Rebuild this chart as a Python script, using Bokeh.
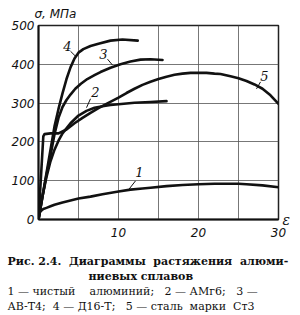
from bokeh.plotting import figure
from bokeh.models import Label, FixedTicker, Range1d, Title, LinearAxis
from bokeh.embed import file_html
from bokeh.resources import INLINE

# ---- data (strain %, stress MPa) ----
eps1 = [0, 0.1, 0.3, 0.6, 1, 1.5, 2, 3, 4, 5, 6.5, 8, 10, 11.5, 13, 14, 16, 18, 20, 22, 24, 25, 26, 28, 30]
sig1 = [0, 15, 22, 27, 30, 34, 38, 44, 49, 54, 59, 65, 72, 77, 80, 82, 86, 89, 91, 92, 92, 92, 91, 88, 83]

eps2 = [0, 0.5, 1, 1.5, 2, 2.5, 3, 4, 5, 6, 7, 8, 9, 10, 12, 14, 16]
sig2 = [0, 60, 110, 150, 180, 203, 222, 248, 268, 280, 288, 292, 295, 297, 301, 303, 305]

eps3 = [0, 0.5, 1, 1.5, 2, 2.5, 3, 3.5, 4, 4.6, 5.3, 6.1, 7, 7.75, 9, 10.25, 11.5, 12.75, 14, 15.5]
sig3 = [0, 60, 115, 165, 220, 262, 290, 308, 322, 337, 350, 362, 372, 380, 391, 400, 407, 412, 413, 411]

eps4 = [0, 0.5, 1, 1.5, 2, 2.5, 3, 3.5, 4, 4.5, 5, 5.6, 6.5, 7.5, 9, 10.5, 12.4]
sig4 = [0, 60, 120, 180, 240, 285, 325, 362, 392, 415, 430, 439, 447, 453, 461, 464, 461]

eps5 = [0, 0.6, 0.75, 1.5, 2.5, 3.5, 4.5, 5.5, 6.5, 7.5, 8.5, 10, 11, 12, 13, 14, 15, 16, 17, 18, 19,
        20, 21, 22, 22.75, 24, 25, 26, 27, 28, 29, 30]
sig5 = [0, 214, 220, 222, 222, 232, 248, 262, 275, 287, 298, 314, 326, 337, 347, 355, 362, 368, 373, 376, 378,
        378, 378, 376, 375, 369, 364, 357, 348, 337, 320, 298]

y_ticks = [0, 100, 200, 300, 400, 500]
x_ticks = [10, 20, 30]
x_grid = [5, 10, 15, 20, 25, 30]

y_title = "σ, МПа"
x_title = "ε"
caption = ["Рис. 2.4.\u00a0 Диаграммы\u00a0 растяжения\u00a0 алюми-",
           "ниевых сплавов",
           "1 — чистый\u00a0\u00a0\u00a0 алюминий;\u00a0\u00a0 2 — АМг6;\u00a0\u00a0 3 —",
           "АВ-Т4;\u00a0 4 — Д16-Т;\u00a0\u00a0 5 — сталь\u00a0 марки\u00a0 Ст3"]

# ---- layout geometry (pixels) ----
W, H = 300, 315
L, R, T, B = 38, 278, 23, 219
X0, X1, Y0, Y1 = 0, 30, 0, 500


def px(x, y):
    """pixel position -> data coordinates (for annotation placement inside the frame)"""
    return (X0 + (x - L) * (X1 - X0) / (R - L), Y0 + (B - y) * (Y1 - Y0) / (B - T))


p = figure(width=W, height=H, output_backend="svg", toolbar_location=None,
           x_range=Range1d(X0, X1), y_range=Range1d(Y0, Y1),
           min_border_left=L, min_border_right=W - R, min_border_top=T, min_border_bottom=H - B)
p.background_fill_color = "white"
p.border_fill_color = "white"
p.outline_line_color = "#222222"
p.outline_line_width = 1.5

p.xaxis.ticker = FixedTicker(ticks=x_ticks)
p.yaxis.ticker = FixedTicker(ticks=y_ticks)
p.xgrid.ticker = FixedTicker(ticks=x_grid)
p.ygrid.ticker = FixedTicker(ticks=y_ticks)
for g in (p.xgrid, p.ygrid):
    g.grid_line_color = "#555555"
    g.grid_line_width = 1
    g.grid_line_alpha = 0.8

for ax in (p.xaxis, p.yaxis):
    ax.axis_line_color = "#111111"
    ax.axis_line_width = 2
    ax.major_tick_in = 0
    ax.major_tick_out = 0
    ax.minor_tick_line_color = None
    ax.major_label_text_font = "DejaVu Sans"
    ax.major_label_text_font_style = "italic"
    ax.major_label_text_font_size = "12px"
    ax.major_label_text_color = "#111111"
p.yaxis.major_label_standoff = 4
p.xaxis.major_label_standoff = 8

# "ε" shown as the single label of an extra right-hand axis at y = 0
eps_axis = LinearAxis(ticker=FixedTicker(ticks=[0]), major_label_overrides={0: x_title},
                      axis_line_color=None, major_tick_in=0, major_tick_out=0,
                      minor_tick_line_color=None, major_label_standoff=4,
                      major_label_text_font="DejaVu Serif", major_label_text_font_style="italic",
                      major_label_text_font_size="14px", major_label_text_color="#111111")
p.add_layout(eps_axis, "right")

lw = 2.6
for e, s in [(eps1, sig1), (eps2, sig2), (eps3, sig3), (eps4, sig4), (eps5, sig5)]:
    p.line(e, s, line_color="#111111", line_width=lw, line_join="round", line_cap="round")

# curve number labels with leader lines
curve_labels = [("1", (139, 171), (135, 180), (128, 189)),
                ("2", (95, 90), (90, 97), (86, 106)),
                ("3", (103, 52), (107, 57), (112, 63)),
                ("4", (67, 44), (70, 49), (75, 54)),
                ("5", (264, 74), (260, 80), (256, 87))]
for txt, tp, a, b in curve_labels:
    x, y = px(*tp)
    p.add_layout(Label(x=x, y=y, text=txt, text_font="DejaVu Serif", text_font_style="italic",
                       text_font_size="13px", text_align="center", text_baseline="middle",
                       text_color="#111111"))
    (xa, ya), (xb, yb) = px(*a), px(*b)
    p.line([xa, xb], [ya, yb], line_color="#111111", line_width=1)

# y-axis title above the frame
p.add_layout(Title(text=y_title, align="left", offset=-4, standoff=9,
                   text_font="DejaVu Sans", text_font_style="italic", text_font_size="12px",
                   text_color="#111111"), "above")

# caption lines below the x axis (the first one starts after a blank line as spacing)
cap_style = [("bold", -31, "\n"), ("bold", 50, ""), ("normal", -31, ""), ("normal", -31, "")]
for line, (style, off, pre) in zip(caption, cap_style):
    p.add_layout(Title(text=pre + line, align="left", offset=off, standoff=0,
                       text_font="DejaVu Serif", text_font_style=style, text_font_size="11px",
                       text_color="#111111"), "below")

open("out.html", "w").write(file_html(p, INLINE))
